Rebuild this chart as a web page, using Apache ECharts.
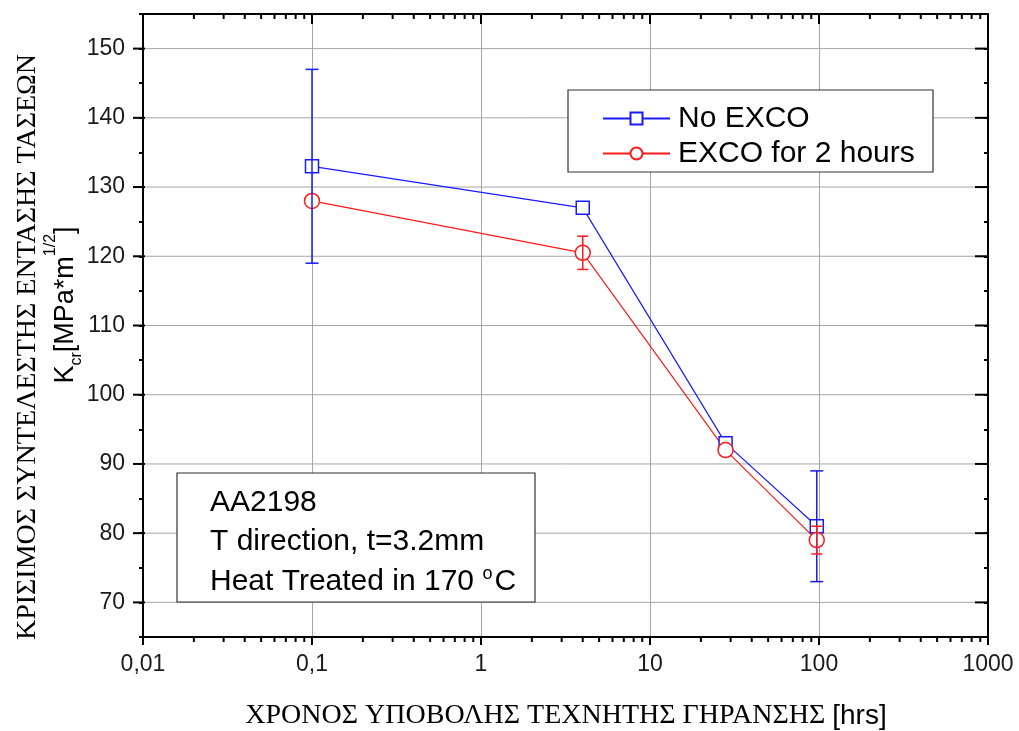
<!DOCTYPE html>
<html>
<head>
<meta charset="utf-8">
<script src="https://cdn.jsdelivr.net/npm/echarts@6/dist/echarts.min.js"></script>
<style>
  html, body { margin: 0; padding: 0; background: #fff; }
  #chart { width: 1019px; height: 731px; }
</style>
</head>
<body>
<div id="chart"></div>
<script>
// Exposure time to artificial ageing [hrs]
const hours = [0.1, 4, 28, 97];
// Critical stress intensity factor K_cr [MPa*m^1/2] and error-bar half widths
const noExco = [133, 127, 93, 81];
const noExcoErr = [14, 0, 0, 8];
const exco2h = [128, 120.5, 92, 79];
const exco2hErr = [0, 2.4, 0, 2];

// Axis ticks
const xTickLabels = ['0,01', '0,1', '1', '10', '100', '1000'];
const yTickLabels = ['70', '80', '90', '100', '110', '120', '130', '140', '150'];
const xDecades = [0.01, 0.1, 1, 10, 100];
const xMinorSteps = [2, 3, 4, 5, 6, 7, 8, 9];

const SANS = '"Liberation Sans", Arial, sans-serif';
const SERIF = '"Liberation Serif", "Times New Roman", serif';
const BLUE = '#1a1aff';
const RED = '#ff1a1a';
const GRID_GRAY = '#a6a6a6';

const xMinorTicks = [];
xDecades.forEach(d => xMinorSteps.forEach(s => xMinorTicks.push([d * s, 100])));
const yMajorTicks = yTickLabels.map(t => [1, Number(t)]);

function errorBarData(xs, ys, errs) {
  const out = [];
  xs.forEach((x, i) => { if (errs[i] > 0) out.push([x, ys[i] - errs[i], ys[i] + errs[i]]); });
  return out;
}

function renderErrorBar(color, capHalf) {
  return function (params, api) {
    const lo = api.coord([api.value(0), api.value(1)]);
    const hi = api.coord([api.value(0), api.value(2)]);
    const st = { stroke: color, lineWidth: 1.5 };
    return {
      type: 'group',
      children: [
        { type: 'line', shape: { x1: lo[0], y1: lo[1], x2: hi[0], y2: hi[1] }, style: st },
        { type: 'line', shape: { x1: lo[0] - capHalf, y1: lo[1], x2: lo[0] + capHalf, y2: lo[1] }, style: st },
        { type: 'line', shape: { x1: hi[0] - capHalf, y1: hi[1], x2: hi[0] + capHalf, y2: hi[1] }, style: st }
      ]
    };
  };
}

const chart = echarts.init(document.getElementById('chart'), null, { renderer: 'canvas' });

const axisLine = { show: true, lineStyle: { color: '#000', width: 2 } };

chart.setOption({
  animation: false,
  backgroundColor: '#fff',
  grid: { left: 143, right: 31, top: 14, bottom: 94, containLabel: false },
  xAxis: [
    {
      type: 'log', logBase: 10, min: 0.01, max: 1000, position: 'bottom',
      axisLine: axisLine,
      axisTick: { show: true, inside: false, length: 8, lineStyle: { color: '#000', width: 2 } },
      axisLabel: {
        margin: 16, fontSize: 23, fontFamily: SANS, color: '#1a1a1a',
        formatter: v => xTickLabels[Math.round(Math.log10(v)) + 2]
      },
      splitLine: { show: true, lineStyle: { color: GRID_GRAY, width: 1 } }
    },
    {
      type: 'log', logBase: 10, min: 0.01, max: 1000, position: 'top',
      axisLine: axisLine,
      axisTick: { show: true, inside: true, length: 10, lineStyle: { color: '#000', width: 2 } },
      axisLabel: { show: false },
      splitLine: { show: false }
    }
  ],
  yAxis: [
    {
      type: 'value', min: 65, max: 155, interval: 5, position: 'left',
      axisLine: axisLine,
      axisTick: { show: true, inside: false, length: 4, lineStyle: { color: '#000', width: 2 } },
      axisLabel: {
        margin: 18, fontSize: 23, fontFamily: SANS, color: '#1a1a1a',
        formatter: v => (yTickLabels.indexOf(String(v)) >= 0 ? String(v) : '')
      },
      splitLine: { show: false }
    },
    {
      type: 'value', min: 65, max: 155, interval: 5, position: 'right',
      axisLine: axisLine,
      axisTick: { show: true, inside: true, length: 4, lineStyle: { color: '#000', width: 2 } },
      axisLabel: { show: false },
      splitLine: { show: false }
    }
  ],
  legend: {
    data: ['No EXCO', 'EXCO for 2 hours'],
    orient: 'vertical',
    left: 602, top: 101,
    padding: 0,
    itemGap: 0,
    itemWidth: 67, itemHeight: 15,
    z: 20,
    textStyle: { fontSize: 30, fontFamily: SANS, color: '#000', lineHeight: 35, padding: [0, 0, 0, 3] }
  },
  graphic: {
    elements: [
      // legend frame
      { type: 'rect', z: 10, shape: { x: 568, y: 90, width: 365, height: 82 },
        style: { fill: '#fff', stroke: '#333', lineWidth: 1.2 } },
      // specimen note
      { type: 'rect', z: 10, shape: { x: 177, y: 473, width: 358, height: 129 },
        style: { fill: '#fff', stroke: '#333', lineWidth: 1.2 } },
      { type: 'text', z: 11, x: 210, y: 503,
        style: { text: 'AA2198', font: '30px ' + SANS, fill: '#000', verticalAlign: 'middle' } },
      { type: 'text', z: 11, x: 210, y: 542,
        style: { text: 'T direction, t=3.2mm', font: '30px ' + SANS, fill: '#000', verticalAlign: 'middle' } },
      { type: 'text', z: 11, x: 210, y: 582,
        style: {
          text: '{t|Heat Treated in 170 }{s|o}{t|C}', verticalAlign: 'middle',
          rich: {
            t: { fontSize: 30, fontFamily: SANS, fill: '#000', lineHeight: 40, verticalAlign: 'middle' },
            s: { fontSize: 18, fontFamily: SANS, fill: '#000', lineHeight: 40, verticalAlign: 'top', padding: [3, 2, 0, 0] }
          }
        } },
      // x axis title
      { type: 'text', x: 566, y: 716,
        style: {
          text: '{g|ΧΡΟΝΟΣ ΥΠΟΒΟΛΗΣ ΤΕΧΝΗΤΗΣ ΓΗΡΑΝΣΗΣ }{s|[hrs]}', align: 'center', verticalAlign: 'middle',
          rich: {
            g: { fontSize: 28, fontFamily: SERIF, fill: '#000' },
            s: { fontSize: 28, fontFamily: SANS, fill: '#000' }
          }
        } },
      // y axis title (outer)
      { type: 'text', x: 28, y: 347, rotation: Math.PI / 2,
        style: {
          text: 'ΚΡΙΣΙΜΟΣ ΣΥΝΤΕΛΕΣΤΗΣ ΕΝΤΑΣΗΣ ΤΑΣΕΩΝ', align: 'center', verticalAlign: 'middle',
          font: '28px ' + SERIF, fill: '#000'
        } },
      // y axis title (symbol and unit)
      { type: 'text', x: 66, y: 305, rotation: Math.PI / 2,
        style: {
          text: '{k|K}{b|cr}{k|[MPa*m}{p|1/2}{k|]}', align: 'center', verticalAlign: 'middle',
          rich: {
            k: { fontSize: 27, fontFamily: SANS, fill: '#000', lineHeight: 50, verticalAlign: 'middle' },
            b: { fontSize: 16, fontFamily: SANS, fill: '#000', lineHeight: 50, verticalAlign: 'bottom', padding: [0, 0, 6, 0] },
            p: { fontSize: 16, fontFamily: SANS, fill: '#000', lineHeight: 50, verticalAlign: 'top', padding: [2, 0, 0, 0] }
          }
        } }
    ]
  },
  series: [
    {
      name: 'grid-y', type: 'custom', silent: true, clip: false, z: 1,
      xAxisIndex: 0, yAxisIndex: 0,
      data: yMajorTicks,
      renderItem: function (params, api) {
        const cs = params.coordSys;
        const y = api.coord([api.value(0), api.value(1)])[1];
        return {
          type: 'group',
          children: [
            { type: 'line', shape: { x1: cs.x, y1: y, x2: cs.x + cs.width, y2: y },
              style: { stroke: GRID_GRAY, lineWidth: 1 } },
            { type: 'line', shape: { x1: cs.x - 10, y1: y, x2: cs.x + 2, y2: y },
              style: { stroke: '#000', lineWidth: 2 } },
            { type: 'line', shape: { x1: cs.x + cs.width - 13, y1: y, x2: cs.x + cs.width, y2: y },
              style: { stroke: '#000', lineWidth: 2 } }
          ]
        };
      }
    },
    {
      name: 'x-minor', type: 'custom', silent: true, clip: false, z: 1,
      xAxisIndex: 0, yAxisIndex: 0,
      data: xMinorTicks,
      renderItem: function (params, api) {
        const cs = params.coordSys;
        const x = api.coord([api.value(0), api.value(1)])[0];
        const bottom = cs.y + cs.height;
        return {
          type: 'group',
          children: [
            { type: 'line', shape: { x1: x, y1: bottom, x2: x, y2: bottom + 5 },
              style: { stroke: '#000', lineWidth: 2 } },
            { type: 'line', shape: { x1: x, y1: cs.y, x2: x, y2: cs.y + 5 },
              style: { stroke: '#000', lineWidth: 2 } }
          ]
        };
      }
    },
    {
      name: 'No EXCO', type: 'line', z: 3,
      data: hours.map((h, i) => [h, noExco[i]]),
      symbol: 'rect', symbolSize: 13,
      lineStyle: { color: BLUE, width: 1.2 },
      itemStyle: { color: '#fff', borderColor: BLUE, borderWidth: 1.5 },
      color: BLUE
    },
    {
      name: 'EXCO for 2 hours', type: 'line', z: 3,
      data: hours.map((h, i) => [h, exco2h[i]]),
      symbol: 'circle', symbolSize: 15,
      lineStyle: { color: RED, width: 1.2 },
      itemStyle: { color: '#fff', borderColor: RED, borderWidth: 1.5 },
      color: RED
    },
    {
      name: 'No EXCO error', type: 'custom', silent: true, clip: false, z: 4,
      encode: { x: 0, y: [1, 2] },
      data: errorBarData(hours, noExco, noExcoErr),
      renderItem: renderErrorBar(BLUE, 6.5)
    },
    {
      name: 'EXCO for 2 hours error', type: 'custom', silent: true, clip: false, z: 4,
      encode: { x: 0, y: [1, 2] },
      data: errorBarData(hours, exco2h, exco2hErr),
      renderItem: renderErrorBar(RED, 5.5)
    }
  ]
});
</script>
</body>
</html>
